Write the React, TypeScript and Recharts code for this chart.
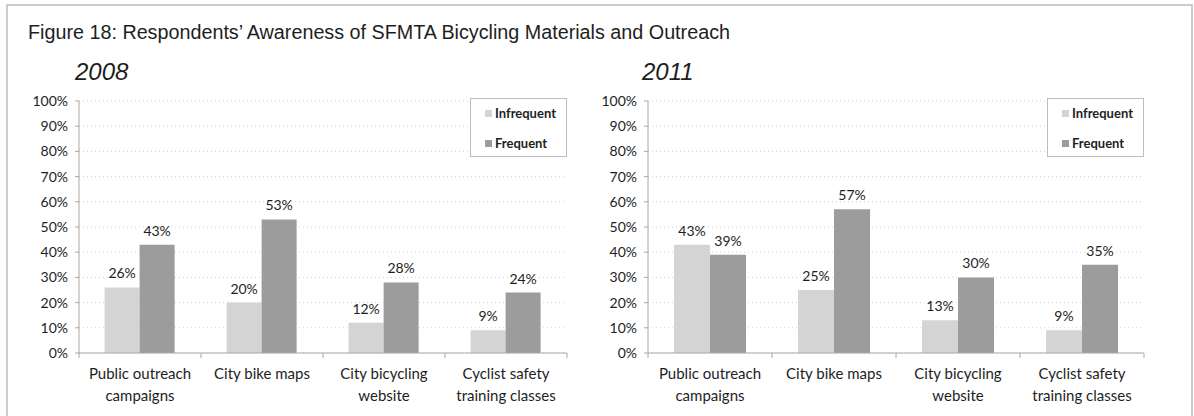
import React from 'react';
import { BarChart, Bar, XAxis, YAxis, CartesianGrid, LabelList, Legend } from 'recharts';

const categories = ['Public outreach\ncampaigns', 'City bike maps', 'City bicycling\nwebsite', 'Cyclist safety\ntraining classes'];
const infrequent2008 = [26, 20, 12, 9];
const frequent2008 = [43, 53, 28, 24];
const infrequent2011 = [43, 25, 13, 9];
const frequent2011 = [39, 57, 30, 35];
const yTicks = [0, 10, 20, 30, 40, 50, 60, 70, 80, 90, 100];

const LIGHT = '#d4d4d4';
const DARK = '#9c9c9c';
const AXIS = '#a8a8a8';
const TEXT = '#1e1e1e';
const FONT = 'Lato, "Noto Sans", sans-serif';

const buildRows = (inf: number[], freq: number[]) =>
  categories.map((name, i) => ({ name, infrequent: inf[i], frequent: freq[i] }));

const CategoryTick = ({ x, y, payload, index, step }: any) => {
  const lines = String(payload.value).split('\n');
  return (
    <g>
      <line x1={x - step / 2} x2={x - step / 2} y1={y} y2={y + 5} stroke={AXIS} />
      {index === categories.length - 1 && (
        <line x1={x + step / 2} x2={x + step / 2} y1={y} y2={y + 5} stroke={AXIS} />
      )}
      <text x={x} y={y} textAnchor="middle" fontSize={15} fill={TEXT} fontFamily={FONT}>
        {lines.map((l, i) => (
          <tspan key={i} x={x} dy={i === 0 ? 26 : 22}>
            {l}
          </tspan>
        ))}
      </text>
    </g>
  );
};

const LegendBox = () => (
  <div
    style={{
      width: 97,
      height: 59,
      boxSizing: 'border-box',
      border: '1px solid #bdbdbd',
      background: '#fff',
      fontFamily: FONT,
      fontSize: 13,
      fontWeight: 700,
      color: TEXT,
      position: 'relative',
    }}
  >
    {[
      { label: 'Infrequent', color: LIGHT, top: 14 },
      { label: 'Frequent', color: DARK, top: 44 },
    ].map((e) => (
      <div key={e.label} style={{ position: 'absolute', left: 14, top: e.top - 8, height: 16, display: 'flex', alignItems: 'center' }}>
        <span style={{ width: 7, height: 7, background: e.color, display: 'inline-block', marginRight: 3 }} />
        <span>{e.label}</span>
      </div>
    ))}
  </div>
);

interface PanelProps {
  inf: number[];
  freq: number[];
  width: number;
  plotLeft: number;
  plotRight: number;
  legendLeft: number;
}

function Panel({ inf, freq, width, plotLeft, plotRight, legendLeft }: PanelProps) {
  const data = buildRows(inf, freq);
  const step = (plotRight - plotLeft) / categories.length;
  return (
    <BarChart
      width={width}
      height={416}
      data={data}
      margin={{ top: 101, right: width - plotRight, bottom: 23, left: plotLeft - 40 }}
      barCategoryGap="21%"
      barGap={0}
    >
      <CartesianGrid vertical={false} stroke="#d2d2d2" strokeDasharray="1 3" />
      <XAxis
        dataKey="name"
        height={40}
        axisLine={{ stroke: AXIS }}
        tickLine={false}
        tickSize={0}
        tickMargin={0}
        interval={0}
        tick={<CategoryTick step={step} />}
      />
      <YAxis
        width={40}
        domain={[0, 100]}
        ticks={yTicks}
        interval={0}
        tickFormatter={(v) => `${v}%`}
        axisLine={{ stroke: AXIS }}
        tickLine={{ stroke: AXIS }}
        tickSize={4}
        tickMargin={7}
        tick={{ fontSize: 14, fill: TEXT, fontFamily: FONT }}
      />
      <Legend
        layout="vertical"
        align="center"
        verticalAlign="middle"
        content={<LegendBox />}
        wrapperStyle={{ left: legendLeft, top: 98, width: 97, height: 59, margin: 0 }}
      />
      <Bar dataKey="infrequent" name="Infrequent" fill={LIGHT} isAnimationActive={false}>
        <LabelList dataKey="infrequent" position="top" offset={9} formatter={(v: any) => `${v}%`} fill={TEXT} fontSize={14} fontFamily={FONT} />
      </Bar>
      <Bar dataKey="frequent" name="Frequent" fill={DARK} isAnimationActive={false}>
        <LabelList dataKey="frequent" position="top" offset={9} formatter={(v: any) => `${v}%`} fill={TEXT} fontSize={14} fontFamily={FONT} />
      </Bar>
    </BarChart>
  );
}

export default function App() {
  return (
    <div style={{ position: 'absolute', left: 0, top: 0, width: 1194, height: 416, background: '#fff', overflow: 'hidden' }}>
      <div style={{ position: 'absolute', left: 0, top: 0 }}>
        <Panel inf={infrequent2008} freq={frequent2008} width={590} plotLeft={79} plotRight={567} legendLeft={470} />
      </div>
      <div style={{ position: 'absolute', left: 590, top: 0 }}>
        <Panel inf={infrequent2011} freq={frequent2011} width={604} plotLeft={58} plotRight={554} legendLeft={457} />
      </div>
      <svg width={1194} height={416} style={{ position: 'absolute', left: 0, top: 0, pointerEvents: 'none' }}>
        <rect x={7} y={5} width={1185} height={430} fill="none" stroke="#bdbdbd" strokeWidth={1.5} />
        <text
          x={28}
          y={39}
          fontSize={20}
          fill={TEXT}
          fontFamily='"Liberation Sans Narrow", "Arial Narrow", "Liberation Sans", Arial, sans-serif'
          textLength={702}
          lengthAdjust="spacingAndGlyphs"
        >
          Figure 18: Respondents’ Awareness of SFMTA Bicycling Materials and Outreach
        </text>
        <text x={75} y={80} fontSize={24} fontStyle="italic" fill={TEXT} fontFamily='"Liberation Sans", Arial, sans-serif'>
          2008
        </text>
        <text x={642} y={80} fontSize={24} fontStyle="italic" fill={TEXT} fontFamily='"Liberation Sans", Arial, sans-serif'>
          2011
        </text>
      </svg>
    </div>
  );
}
